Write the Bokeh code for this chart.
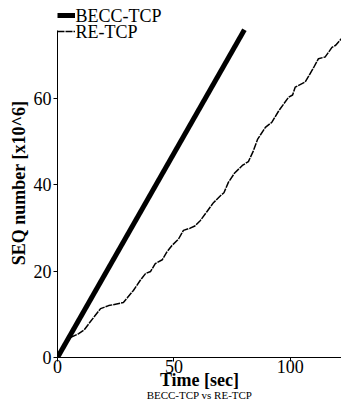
from bokeh.plotting import figure
from bokeh.models import Range1d, Legend, LegendItem, Title, Label
from bokeh.embed import file_html
from bokeh.resources import INLINE

becc_t = [0, 80.3]
becc_seq = [0, 75.8]

re_t = [0, 5.0, 9.1, 11.5, 14.0, 18.5, 20.0, 22.0, 28.3, 30.0, 32.6, 35.5, 37.8, 40.0, 42.0, 45.0, 47.0,
        49.0, 52.0, 54.1, 57.0, 59.0, 61.4, 64.0, 67.0, 70.0, 71.5, 73.4, 76.0, 79.4, 82.0, 84.0, 86.0,
        89.3, 92.1, 95.0, 99.3, 101.0, 102.1, 106.4, 110.0, 112.1, 115.0, 117.9, 119.5, 121.9]
re_seq = [0, 4.5, 5.5, 6.4, 8.2, 11.3, 11.6, 12.0, 12.7, 13.8, 15.5, 17.8, 19.4, 19.9, 21.7, 22.6, 24.4,
          25.8, 27.4, 29.4, 29.9, 30.4, 31.7, 33.6, 35.8, 37.4, 38.1, 40.5, 42.6, 44.4, 45.3, 47.6, 50.5,
          53.2, 54.4, 57.0, 60.2, 60.7, 62.5, 63.7, 67.0, 69.1, 69.5, 71.7, 72.2, 73.7]

series_names = ["BECC-TCP", "RE-TCP"]
y_ticks = [0, 20, 40, 60]
x_ticks = [0, 50, 100]

FONT = "Liberation Serif"

p = figure(width=341, height=399, output_backend="svg", toolbar_location=None,
           x_range=Range1d(0, 122), y_range=Range1d(0, 80.7),
           min_border_left=57, min_border_right=0, min_border_top=8, min_border_bottom=42,
           outline_line_color=None, background_fill_color="white", border_fill_color="white")
p.grid.visible = False

l1 = p.line(becc_t, becc_seq, line_width=5, color="black")
l2 = p.line(re_t, re_seq, line_width=1.5, color="black", line_dash="7 1")

# legend glyphs (keys); the labels are drawn as separate text annotations
legend = Legend(items=[LegendItem(label=" ", renderers=[l1]),
                       LegendItem(label=" ", renderers=[l2])],
                location="top_left", margin=0, padding=0, spacing=2,
                border_line_color=None, background_fill_alpha=0,
                glyph_width=18, glyph_height=14, label_height=14, label_width=1,
                label_standoff=0, label_text_font_size="1px")
p.add_layout(legend)

for i, name in enumerate(series_names):
    p.add_layout(Label(x=18, y=342 - 16 * i, x_units="screen", y_units="screen", text=name,
                       text_font=FONT, text_font_size="18px", text_baseline="middle",
                       text_color="black"))

for ax in (p.xaxis[0], p.yaxis[0]):
    ax.axis_line_color = "black"
    ax.axis_line_width = 1
    ax.major_tick_out = 4
    ax.major_tick_in = 0
    ax.minor_tick_out = 0
    ax.minor_tick_in = 2
    ax.major_label_text_font = "Liberation Serif, serif"
    ax.major_label_text_font_size = "18px"
    ax.major_label_text_color = "black"
    ax.axis_label_text_font = FONT
    ax.axis_label_text_font_style = "bold"
    ax.axis_label_text_font_size = "18px"
    ax.axis_label_text_color = "black"

p.yaxis[0].bounds = (0, 75.5)
p.yaxis[0].ticker = y_ticks
p.yaxis[0].axis_label = "SEQ number [x10^6]"
p.yaxis[0].major_label_standoff = 2
p.yaxis[0].axis_label_standoff = 2
p.xaxis[0].ticker = x_ticks
p.xaxis[0].axis_label = "Time [sec]"
p.xaxis[0].major_label_standoff = -2
p.xaxis[0].axis_label_standoff = -6

sub = Title(text="BECC-TCP vs RE-TCP", align="center", text_font=FONT,
            text_font_size="11px", text_font_style="normal", text_color="black",
            standoff=-12, offset=0)
p.add_layout(sub, "below")

open("out.html", "w").write(file_html(p, INLINE))
